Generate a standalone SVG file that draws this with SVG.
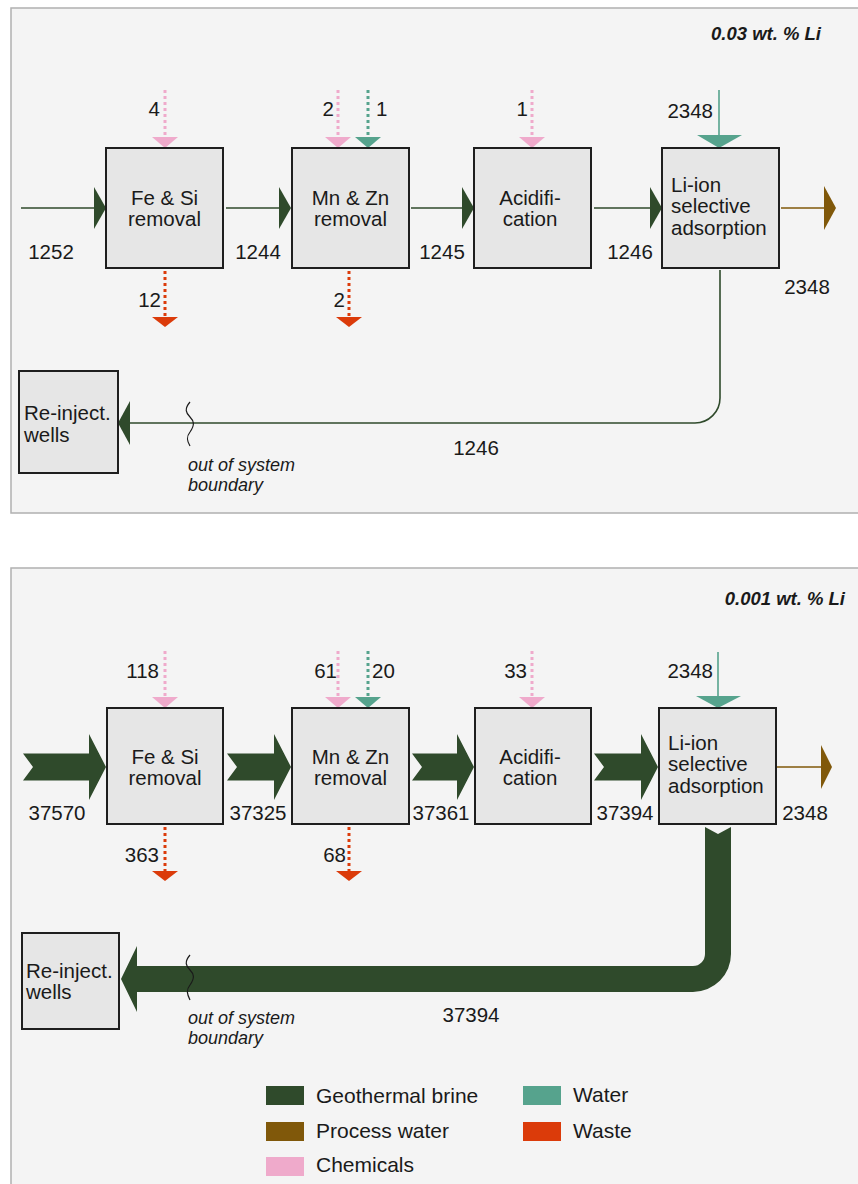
<svg xmlns="http://www.w3.org/2000/svg" width="858" height="1184" viewBox="0 0 858 1184">
<style>
text{font-family:"Liberation Sans",Arial,sans-serif;fill:#1a1a1a}
.n{font-size:20.5px}
.c{text-anchor:middle}
.e{text-anchor:end}
.bx{fill:#e6e6e6;stroke:#1e1e1e;stroke-width:2}
.pn{fill:#f4f4f4;stroke:#b0b0b0;stroke-width:1.5}
.br{stroke:#2f4a2b;stroke-width:1.6;fill:none}
.brf{fill:#2f4a2b}
.pw{stroke:#80580a;stroke-width:1.6;fill:none}
.pwf{fill:#80580a}
.ch{stroke:#efaacb;stroke-width:3;stroke-dasharray:3 3;fill:none}
.chf{fill:#efaacb}
.wt{stroke:#56a38d;stroke-width:3;stroke-dasharray:3 3;fill:none}
.wts{stroke:#56a38d;stroke-width:1.6;fill:none}
.wtf{fill:#56a38d}
.ws{stroke:#db3b0a;stroke-width:3;stroke-dasharray:3 3;fill:none}
.wsf{fill:#db3b0a}
.it{font-size:18px;font-style:italic}
.ti{font-size:18.5px;font-style:italic;font-weight:bold}
.lg{font-size:21px}
.wv{stroke:#1a1a1a;stroke-width:1.2;fill:none}
</style>
<rect class="pn" x="11" y="8" width="860" height="505"/>
<rect class="pn" x="11" y="568" width="860" height="640"/>
<text class="ti e" x="821" y="40">0.03 wt. % Li</text>
<text class="ti e" x="845" y="605">0.001 wt. % Li</text>

<g id="connectors">
<line class="br" x1="21" y1="208" x2="95" y2="208"/><polygon class="brf" points="94,187 106,208 94,229"/>
<line class="br" x1="226" y1="208" x2="280" y2="208"/><polygon class="brf" points="279,187 291,208 279,229"/>
<line class="br" x1="411" y1="208" x2="463" y2="208"/><polygon class="brf" points="462,187 474,208 462,229"/>
<line class="br" x1="594" y1="208" x2="651" y2="208"/><polygon class="brf" points="650,187 662,208 650,229"/>
<line class="pw" x1="781" y1="208" x2="825" y2="208"/><polygon class="pwf" points="824,186 836,208 824,230"/>
<path class="br" d="M720,270 V398 A25,25 0 0 1 695,423 H129"/><polygon class="brf" points="130,401 118,423 130,445"/>
<path class="wv" d="M190,402 c-6,7 -4,11 0,15 c4,4 5,8 0,15 c-4,5 -3,9 0,14"/>
<line class="ch" x1="165" y1="90" x2="165" y2="138"/><polygon class="chf" points="152,137 178,137 165,148"/>
<line class="ch" x1="338" y1="90" x2="338" y2="138"/><polygon class="chf" points="325,137 351,137 338,148"/>
<line class="wt" x1="368" y1="90" x2="368" y2="138"/><polygon class="wtf" points="355,137 381,137 368,148"/>
<line class="ch" x1="532" y1="90" x2="532" y2="138"/><polygon class="chf" points="519,137 545,137 532,148"/>
<line class="wts" x1="719" y1="90" x2="719" y2="136"/><polygon class="wtf" points="697,135 742,135 719,148"/>
<line class="ws" x1="165" y1="271" x2="165" y2="318"/><polygon class="wsf" points="152,317 178,317 165,327"/>
<line class="ws" x1="349" y1="271" x2="349" y2="318"/><polygon class="wsf" points="336,317 362,317 349,327"/>
<path class="brf" d="M23,753.5 H89 V734 L106,767 L89,800 V780.5 H23 L33,767 Z"/>
<path class="brf" d="M227,753.5 H274 V734 L291,767 L274,800 V780.5 H227 L237,767 Z"/>
<path class="brf" d="M412,753.5 H457 V734 L474,767 L457,800 V780.5 H412 L422,767 Z"/>
<path class="brf" d="M594,753.5 H641 V734 L658,767 L641,800 V780.5 H594 L604,767 Z"/>
<line class="pw" x1="777" y1="767" x2="822" y2="767"/><polygon class="pwf" points="821,745 832,767 821,789"/>
<path class="brf" d="M705,827 L718,834 L731,827 L731,954 A38,38 0 0 1 693,992 L137,992 L137,1012 L121,979 L137,946 L137,966 L693,966 A12,12 0 0 0 705,954 Z"/>
<path class="wv" d="M190,955 c-6,7 -4,11 0,15 c4,4 5,8 0,15 c-4,5 -3,9 0,15"/>
<line class="ch" x1="165" y1="651" x2="165" y2="698"/><polygon class="chf" points="152,697 178,697 165,708"/>
<line class="ch" x1="338" y1="651" x2="338" y2="698"/><polygon class="chf" points="325,697 351,697 338,708"/>
<line class="wt" x1="368" y1="651" x2="368" y2="698"/><polygon class="wtf" points="355,697 381,697 368,708"/>
<line class="ch" x1="532" y1="651" x2="532" y2="698"/><polygon class="chf" points="519,697 545,697 532,708"/>
<line class="wts" x1="718" y1="652" x2="718" y2="697"/><polygon class="wtf" points="696,696 741,696 718,708"/>
<line class="ws" x1="165" y1="827" x2="165" y2="872"/><polygon class="wsf" points="152,871 178,871 165,881"/>
<line class="ws" x1="349" y1="827" x2="349" y2="872"/><polygon class="wsf" points="336,871 362,871 349,881"/>
</g>

<g id="labels">
<text class="n c" x="51" y="259">1252</text>
<text class="n c" x="258" y="259">1244</text>
<text class="n c" x="442" y="259">1245</text>
<text class="n c" x="630" y="259">1246</text>
<text class="n c" x="807" y="294">2348</text>
<text class="n c" x="476" y="455">1246</text>
<text class="n e" x="160" y="116">4</text>
<text class="n e" x="334" y="116">2</text>
<text class="n" x="376" y="116">1</text>
<text class="n e" x="528" y="116">1</text>
<text class="n e" x="713" y="118">2348</text>
<text class="n e" x="161" y="307">12</text>
<text class="n e" x="345" y="307">2</text>
<text class="it" x="188" y="471">out of system</text>
<text class="it" x="188" y="491">boundary</text>
<text class="n c" x="57" y="820">37570</text>
<text class="n c" x="258" y="820">37325</text>
<text class="n c" x="441" y="820">37361</text>
<text class="n c" x="625" y="820">37394</text>
<text class="n c" x="805" y="820">2348</text>
<text class="n c" x="471" y="1022">37394</text>
<text class="n e" x="159" y="678">118</text>
<text class="n e" x="337" y="678">61</text>
<text class="n" x="372" y="678">20</text>
<text class="n e" x="527" y="678">33</text>
<text class="n e" x="713" y="678">2348</text>
<text class="n e" x="159" y="862">363</text>
<text class="n e" x="346" y="862">68</text>
<text class="it" x="188" y="1024">out of system</text>
<text class="it" x="188" y="1044">boundary</text>
</g>

<g id="fe1"><rect class="bx" x="106" y="148" width="117" height="120"/><text class="n c" x="164.5" y="205">Fe &amp; Si</text><text class="n c" x="164.5" y="226">removal</text></g>
<g id="mn1"><rect class="bx" x="292" y="148" width="117" height="120"/><text class="n c" x="350.5" y="205">Mn &amp; Zn</text><text class="n c" x="350.5" y="226">removal</text></g>
<g id="ac1"><rect class="bx" x="474" y="148" width="117" height="120"/><text class="n c" x="530" y="205">Acidifi-</text><text class="n c" x="530" y="226">cation</text></g>
<g id="li1"><rect class="bx" x="662" y="148" width="117" height="120"/><text class="n" x="671" y="192">Li-ion</text><text class="n" x="671" y="213">selective</text><text class="n" x="671" y="235">adsorption</text></g>
<g id="rw1"><rect class="bx" x="19" y="371" width="99" height="102"/><text class="n" x="24" y="420">Re-inject.</text><text class="n" x="24" y="442">wells</text></g>

<g id="fe2"><rect class="bx" x="107" y="708" width="116" height="116"/><text class="n c" x="165" y="764">Fe &amp; Si</text><text class="n c" x="165" y="785">removal</text></g>
<g id="mn2"><rect class="bx" x="292" y="708" width="117" height="116"/><text class="n c" x="350.5" y="764">Mn &amp; Zn</text><text class="n c" x="350.5" y="785">removal</text></g>
<g id="ac2"><rect class="bx" x="475" y="708" width="116" height="116"/><text class="n c" x="530" y="764">Acidifi-</text><text class="n c" x="530" y="785">cation</text></g>
<g id="li2"><rect class="bx" x="659" y="708" width="117" height="116"/><text class="n" x="668" y="750">Li-ion</text><text class="n" x="668" y="771">selective</text><text class="n" x="668" y="793">adsorption</text></g>
<g id="rw2"><rect class="bx" x="22" y="933" width="97" height="96"/><text class="n" x="26" y="978">Re-inject.</text><text class="n" x="26" y="999">wells</text></g>

<g id="legend">
<rect x="266" y="1086" width="38" height="19" fill="#2f4a2b"/><text class="lg" x="316" y="1103">Geothermal brine</text>
<rect x="266" y="1122" width="38" height="19" fill="#80580a"/><text class="lg" x="316" y="1138">Process water</text>
<rect x="266" y="1157" width="38" height="19" fill="#efaacb"/><text class="lg" x="316" y="1172">Chemicals</text>
<rect x="523" y="1086" width="38" height="19" fill="#56a38d"/><text class="lg" x="573" y="1102">Water</text>
<rect x="523" y="1122" width="38" height="19" fill="#db3b0a"/><text class="lg" x="573" y="1138">Waste</text>
</g>
</svg>
